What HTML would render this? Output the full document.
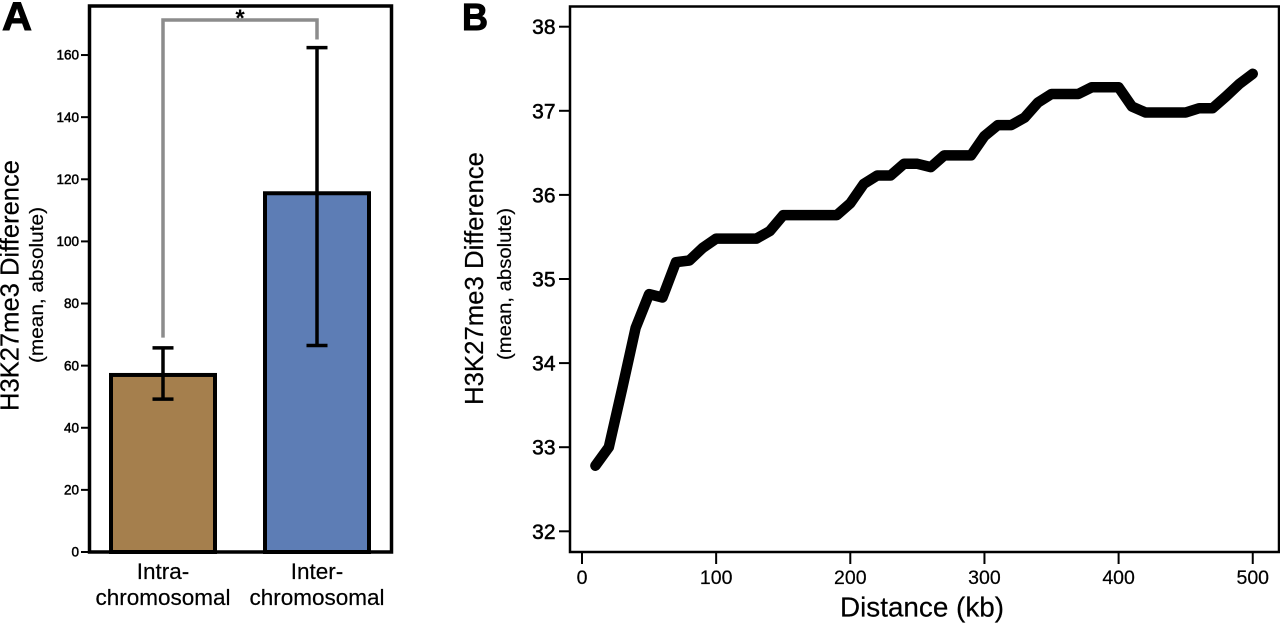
<!DOCTYPE html>
<html lang="en">
<head>
<meta charset="utf-8">
<title>H3K27me3 Difference</title>
<style>
html,body{margin:0;padding:0;background:#fff;width:1280px;height:623px;overflow:hidden}
svg{display:block}
text{font-family:"Liberation Sans",Arial,sans-serif;fill:#000}
</style>
</head>
<body>
<svg id="figure" xmlns="http://www.w3.org/2000/svg" width="1280" height="623" viewBox="0 0 1280 623">
  <rect x="0" y="0" width="1280" height="623" fill="#fff"/>
  <text x="2" y="30" font-size="40" font-weight="700" textLength="30" lengthAdjust="spacingAndGlyphs" stroke="#000" stroke-width="1">A</text>
  <text x="462" y="30" font-size="38" font-weight="700" textLength="26" lengthAdjust="spacingAndGlyphs" stroke="#000" stroke-width="1">B</text>

  <g id="panel-a"></g>
  <rect x="89.5" y="6" width="302" height="546" fill="none" stroke="#000" stroke-width="3.5"/>
  <text transform="translate(18.5,411) rotate(-90)" font-size="26" textLength="251" lengthAdjust="spacingAndGlyphs" stroke="#000" stroke-width="0.2">H3K27me3 Difference</text>
  <text transform="translate(43,363) rotate(-90)" font-size="19.5" textLength="156" lengthAdjust="spacingAndGlyphs" stroke="#000" stroke-width="0.2">(mean, absolute)</text>

  <g id="panel-b"></g>
  <rect x="570" y="6.5" width="709" height="545.5" fill="none" stroke="#000" stroke-width="2.5"/>
  <text transform="translate(483,405) rotate(-90)" font-size="26" textLength="253" lengthAdjust="spacingAndGlyphs" stroke="#000" stroke-width="0.2">H3K27me3 Difference</text>
  <text transform="translate(511,360) rotate(-90)" font-size="19.5" textLength="152" lengthAdjust="spacingAndGlyphs" stroke="#000" stroke-width="0.2">(mean, absolute)</text>
  <text x="922" y="616.5" text-anchor="middle" font-size="28" textLength="164" lengthAdjust="spacingAndGlyphs" stroke="#000" stroke-width="0.2">Distance (kb)</text>
</svg>
<script>
var barCategories = [["Intra-", "chromosomal"], ["Inter-", "chromosomal"]];
var barValues = [57, 115.5];
var barErrorLow = [49.2, 66.5];
var barErrorHigh = [65.7, 162.4];
var barColors = ["#a57f4d", "#5d7db5"];
var barTicks = [0, 20, 40, 60, 80, 100, 120, 140, 160];
var bracketLowEnds = [69, 165];
var lineDistance = [10,20,30,40,50,60,70,80,90,100,110,120,130,140,150,160,170,180,190,200,210,220,230,240,250,260,270,280,290,300,310,320,330,340,350,360,370,380,390,400,410,420,430,440,450,460,470,480,490,500];
var lineValues = [32.78,33.0,33.7,34.42,34.82,34.78,35.2,35.22,35.37,35.48,35.48,35.48,35.48,35.57,35.76,35.76,35.76,35.76,35.76,35.9,36.13,36.23,36.23,36.37,36.37,36.33,36.47,36.47,36.47,36.7,36.83,36.83,36.92,37.1,37.2,37.2,37.2,37.28,37.28,37.28,37.05,36.98,36.98,36.98,36.98,37.03,37.03,37.17,37.32,37.44];
var lineXTicks = [0, 100, 200, 300, 400, 500];
var lineYTicks = [32, 33, 34, 35, 36, 37, 38];

var NS = "http://www.w3.org/2000/svg";
function make(tag, parent, attrs) {
  var node = document.createElementNS(NS, tag);
  for (var k in attrs) { node.setAttribute(k, attrs[k]); }
  parent.appendChild(node);
  return node;
}

/* Panel A axes */
function ay(v) { return 552 - v * 3.106; }
function ax(i) { return 163 + i * 154; }
var pa = document.getElementById("panel-a");

barValues.forEach(function (v, i) {
  var bar = make("rect", pa, { x: ax(i) - 52, y: ay(v), width: 104, height: 552 - ay(v), fill: barColors[i], stroke: "#000", "stroke-width": 4 });
  
  
});

var bracket = make("polyline", pa, { points: ax(0) + "," + ay(bracketLowEnds[0]) + " " + ax(0) + ",20 " + ax(1) + ",20 " + ax(1) + "," + ay(bracketLowEnds[1]), fill: "none", stroke: "#8c8c8c", "stroke-width": 3.5 });



var star = make("text", pa, { x: 240, y: 26, "text-anchor": "middle", "font-size": 24, "font-weight": 700 });
star.textContent = "*";



barValues.forEach(function (v, i) {
  var g = make("g", pa, { stroke: "#000", "stroke-width": 3.5, fill: "none" });
  
  
  make("line", g, { x1: ax(i), x2: ax(i), y1: ay(barErrorLow[i]), y2: ay(barErrorHigh[i]) });
  make("line", g, { x1: ax(i) - 10.5, x2: ax(i) + 10.5, y1: ay(barErrorLow[i]), y2: ay(barErrorLow[i]) });
  make("line", g, { x1: ax(i) - 10.5, x2: ax(i) + 10.5, y1: ay(barErrorHigh[i]), y2: ay(barErrorHigh[i]) });
});

barTicks.forEach(function (t) {
  var tick = make("line", pa, { x1: 81, x2: 89, y1: ay(t), y2: ay(t), stroke: "#000", "stroke-width": 2 });
  
  
  var label = make("text", pa, { x: 79, y: ay(t) + 4.7, "text-anchor": "end", "font-size": 13.5, stroke: "#000", "stroke-width": 0.5 });
  label.textContent = t;
  
  
});

barCategories.forEach(function (lines, i) {
  lines.forEach(function (s, j) {
    var label = make("text", pa, { x: ax(i), y: 579 + j * 26, "text-anchor": "middle", "font-size": 22.5, stroke: "#000", "stroke-width": 0.2 });
    label.textContent = s;
    
    
  });
});

/* Panel B axes */
function bx(d) { return 582 + d * 1.3415; }
function by(v) { return 531.3 - (v - 32) * 84.1; }
var pb = document.getElementById("panel-b");

var pts = lineDistance.map(function (d, i) { return bx(d) + "," + by(lineValues[i]); }).join(" ");
var series = make("polyline", pb, { points: pts, fill: "none", stroke: "#000", "stroke-width": 10.5, "stroke-linejoin": "round", "stroke-linecap": "round" });



lineYTicks.forEach(function (t) {
  var tick = make("line", pb, { x1: 559, x2: 570, y1: by(t), y2: by(t), stroke: "#000", "stroke-width": 2 });
  
  
  var label = make("text", pb, { x: 555.5, y: by(t) + 7.5, "text-anchor": "end", "font-size": 21, stroke: "#000", "stroke-width": 0.5 });
  label.textContent = t;
  
  
});

lineXTicks.forEach(function (t) {
  var tick = make("line", pb, { x1: bx(t), x2: bx(t), y1: 552, y2: 564, stroke: "#000", "stroke-width": 2 });
  
  
  var label = make("text", pb, { x: bx(t), y: 584, "text-anchor": "middle", "font-size": 19.5, stroke: "#000", "stroke-width": 0.2 });
  label.textContent = t;
  
  
});
</script>
</body>
</html>
